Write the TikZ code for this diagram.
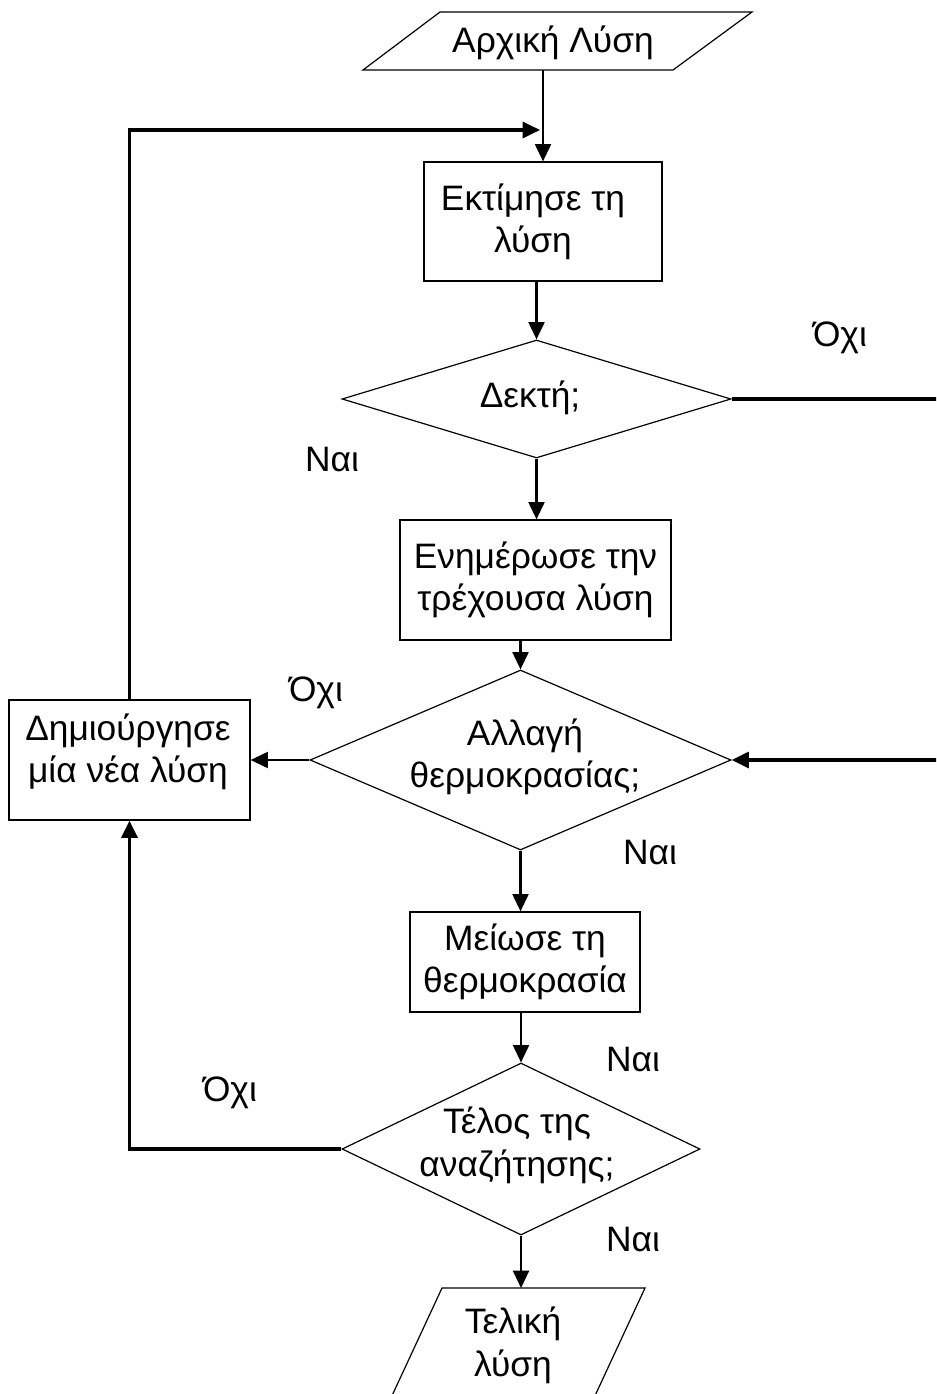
\documentclass[tikz,border=0pt]{standalone}
\usepackage{fontspec}
\setmainfont{Liberation Sans}
\usetikzlibrary{arrows.meta,shapes.geometric}
\begin{document}
\begin{tikzpicture}[x=0.75pt,y=-0.75pt,
  every node/.style={font=\fontsize{26.5}{32}\selectfont},
  box/.style={draw,line width=0.9pt,inner sep=0pt,align=center},
  dia/.style={draw,diamond,line width=0.9pt,inner sep=0pt},
  txt/.style={inner sep=0pt,align=center},
  conn/.style={line width=1.6pt,-{Triangle[length=13pt,width=12pt]}},
  looparrow/.style={line width=2.4pt,-{Triangle[length=13pt,width=12pt]}},
  lab/.style={inner sep=0pt}]
\useasboundingbox (0,0) rectangle (936,1394);
\clip (0,0) rectangle (936,1394);

% input / output parallelograms
\draw[line width=0.9pt] (440,12) -- (752,12) -- (673,70) -- (363,70) -- cycle;
\node[txt] (start) at (553,43) {Αρχική Λύση};
\coordinate (startout) at (543,70);

\draw[line width=0.9pt] (442,1288) -- (645,1288) -- (593,1400) -- (390,1400) -- cycle;
\node[txt] (finish) at (513,1345) {Τελική\\λύση};
\coordinate (finishin) at (521,1288);

% process boxes
\node[box,minimum width=178.5pt,minimum height=89.25pt] (eval) at (543,221.5) {};
\node[txt] (evaltxt) at (533,222) {Εκτίμησε τη\\λύση};
\node[box,minimum width=203.25pt,minimum height=90pt] (update) at (535.5,580) {Ενημέρωσε την\\τρέχουσα λύση};
\node[box,minimum width=180.75pt,minimum height=90pt] (newsol) at (129.5,760) {};
\node[txt] (newsoltxt) at (128,752) {Δημιούργησε\\μία νέα λύση};
\node[box,minimum width=172.5pt,minimum height=75pt] (cool) at (525,962) {Μείωσε τη\\θερμοκρασία};

% decisions
\node[dia,minimum width=291.75pt,minimum height=88.5pt] (accept) at (536.5,399) {};
\node[txt] (accepttxt) at (530,398) {Δεκτή;};
\node[dia,minimum width=315.75pt,minimum height=135pt] (change) at (520.5,760) {};
\node[txt] (changetxt) at (525,757) {Αλλαγή\\θερμοκρασίας;};
\node[dia,minimum width=268.5pt,minimum height=129pt] (stop) at (521,1149) {};
\node[txt] (stoptxt) at (517,1145) {Τέλος της\\αναζήτησης;};

% branch labels
\node[lab] (l1) at (840,338) {Όχι};
\node[lab] (l2) at (332,460) {Ναι};
\node[lab] (l3) at (316,693) {Όχι};
\node[lab] (l4) at (650,853) {Ναι};
\node[lab] (l5) at (633,1060) {Ναι};
\node[lab] (l6) at (230,1093) {Όχι};
\node[lab] (l7) at (633,1240) {Ναι};

% routing points
\coordinate (join) at (540,130);
\coordinate (rtop) at (950,399);
\coordinate (rbot) at (950,760);

% main flow
\draw[conn] (startout) -- (eval.north);
\draw[conn] (accept.north |- eval.south) -- (accept.north);
\draw[conn] (accept.south) -- (accept.south |- update.north);
\draw[conn] (change.north |- update.south) -- (change.north);
\draw[conn] (change.south) -- (change.south |- cool.north);
\draw[conn] (stop.north |- cool.south) -- (stop.north);
\draw[conn] (stop.south) -- (finishin);
\draw[conn] (change.west) -- (newsol.east);

% loops
\draw[looparrow] (accept.east) -- (rtop) -- (rbot) -- (change.east);
\draw[looparrow] (newsol.north) |- (join);
\draw[looparrow] (stop.west) -| (newsol.south);
\end{tikzpicture}
\end{document}
